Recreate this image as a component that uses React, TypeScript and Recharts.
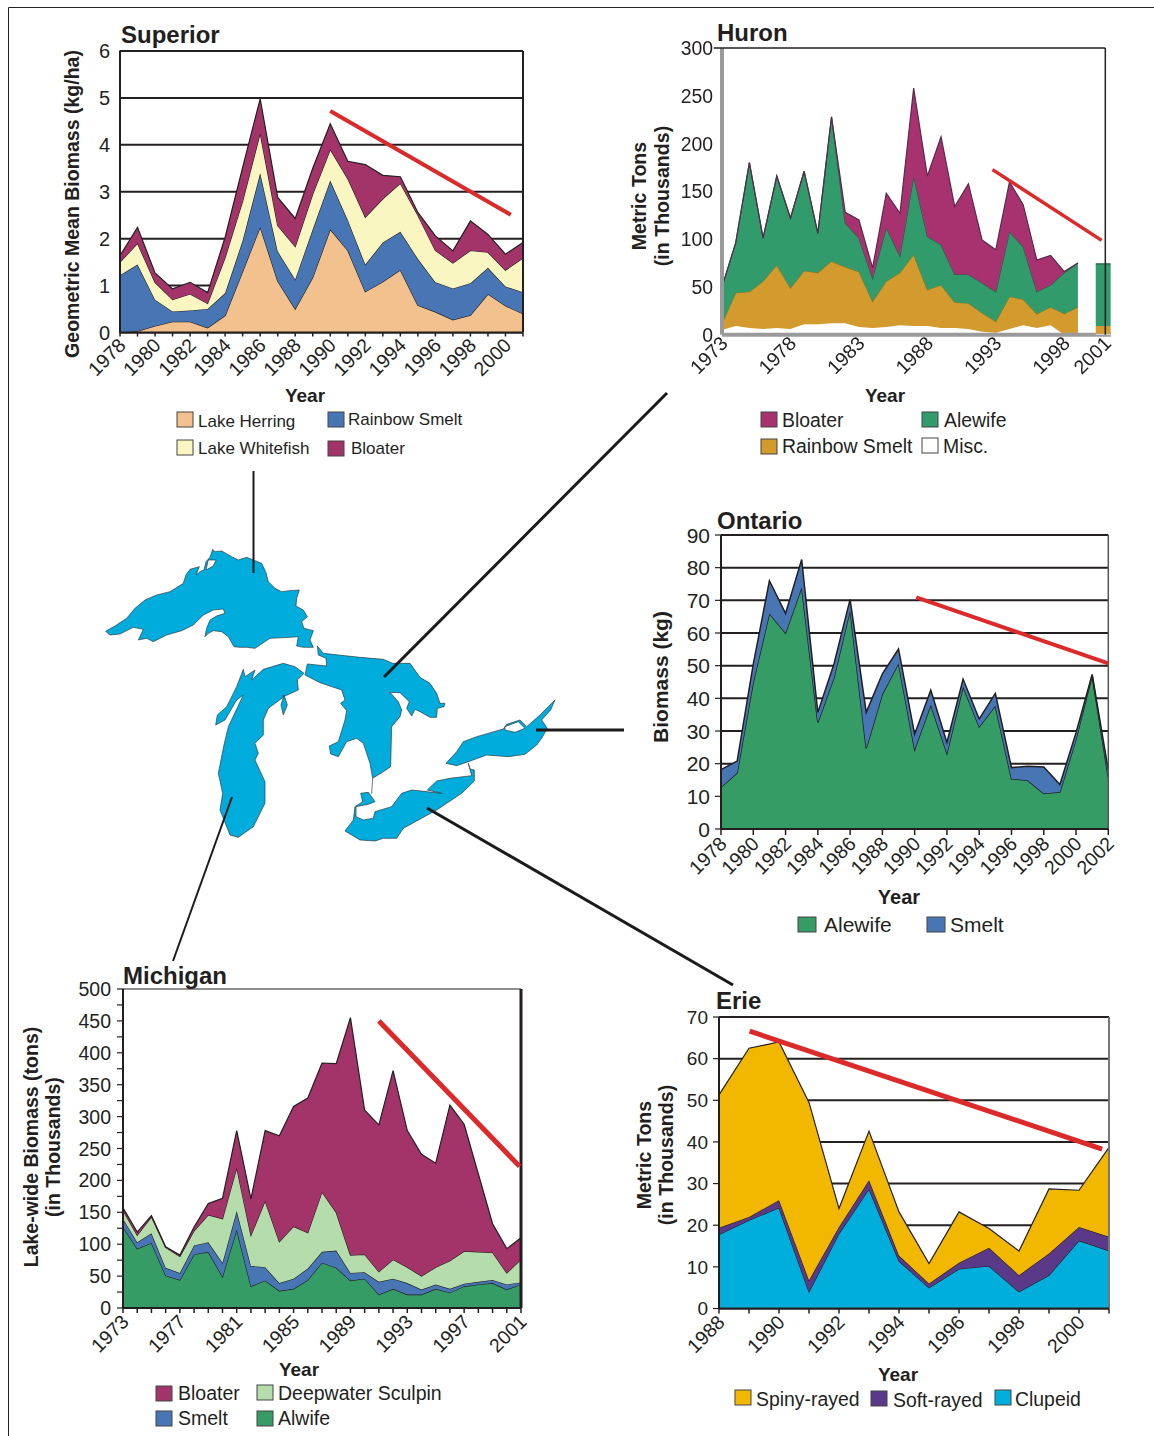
import React from "react";
import { AreaChart, Area, XAxis, YAxis, CartesianGrid, ReferenceLine } from "recharts";

// ---------- Superior ----------
const supYears = [1978,1979,1980,1981,1982,1983,1984,1985,1986,1987,1988,1989,1990,1991,1992,1993,1994,1995,1996,1997,1998,1999,2000,2001];
const supHerring = [0,.03,.14,.23,.23,.1,.36,1.3,2.25,1.1,.5,1.17,2.2,1.75,.87,1.08,1.33,.58,.44,.27,.37,.82,.57,.4];
const supSmelt = [1.22,1.42,.56,.22,.24,.4,.48,.66,1.15,.63,.63,1.03,1.04,.65,.58,.84,.82,.99,.63,.67,.68,.56,.41,.46];
const supWhitefish = [.28,.45,.37,.25,.35,.12,.76,.84,.85,.55,.7,.75,.66,.88,1.01,.93,1.03,.93,.68,.54,.7,.33,.35,.73];
const supBloater = [.14,.34,.2,.23,.25,.23,.43,.72,.73,.6,.6,.55,.55,.37,1.12,.5,.14,.06,.31,.26,.63,.38,.34,.33];
const supLabels = [1978,1980,1982,1984,1986,1988,1990,1992,1994,1996,1998,2000];
const supYTicks = [0,1,2,3,4,5,6];

// ---------- Huron ----------
const hurYears = [1973,1974,1975,1976,1977,1978,1979,1980,1981,1982,1983,1984,1985,1986,1987,1988,1989,1990,1991,1992,1993,1994,1995,1996,1997,1998,1999];
const hurMisc = [5,9,7,6,7,6,11,11,12,12,8,7,8,10,9,9,7,7,6,3,2,6,10,7,10,0,2];
const hurSmelt = [7,35,38,50,66,43,56,54,65,59,58,28,48,55,75,38,45,27,27,20,12,34,27,15,19,22,27];
const hurAlewife = [38,52,135,45,93,73,104,41,151,46,35,24,56,17,82,56,42,29,30,31,31,68,55,23,23,43,46];
const hurBloater = [0,0,0,0,0,0,0,0,0,11,19,11,36,45,92,63,113,71,95,45,44,52,44,33,31,1,0];
const hurLateYears = [2000.3,2001.4];
const hurLateMisc = [1,1];
const hurLateSmelt = [8,8];
const hurLateAlewife = [65,65];
const hurLateBloater = [0,0];
const hurLabels = [1973,1978,1983,1988,1993,1998,2001];
const hurYTicks = [0,50,100,150,200,250,300];

// ---------- Ontario ----------
const ontYears = [1978,1979,1980,1981,1982,1983,1984,1985,1986,1987,1988,1989,1990,1991,1992,1993,1994,1995,1996,1997,1998,1999,2000,2001,2002];
const ontAlewife = [12.8,17.2,45,66,60,74,32.6,46.4,67,24.7,41.3,50.7,24.4,38,23.2,43.6,31.3,37.7,15.4,14.9,10.9,11.3,27.5,47,15.7];
const ontSmelt = [5.4,3.6,5.5,10,6,8.5,3.1,4.1,3.3,11,6.2,4.4,4.6,4.5,3.3,2.3,2.4,3.8,3.4,4.3,8.1,2.3,2,.3,2.3];
const ontTicks = [1978,1980,1982,1984,1986,1988,1990,1992,1994,1996,1998,2000,2002];
const ontYTicks = [0,10,20,30,40,50,60,70,80,90];

// ---------- Michigan ----------
const micYears = [1973,1974,1975,1976,1977,1978,1979,1980,1981,1982,1983,1984,1985,1986,1987,1988,1989,1990,1991,1992,1993,1994,1995,1996,1997,1998,1999,2000,2001];
const micAlewife = [127,93,102,51,44,84,88,49,123,34,43,27,30,44,71,63,43,46,21,30,21,21,30,24,34,37,39,29,37];
const micSmelt = [13,10,15,12,11,14,15,22,29,32,21,12,16,18,17,27,12,10,20,16,18,8,7,6,4,4,5,8,3];
const micSculpin = [13,11,26,32,26,23,43,69,68,48,104,65,82,56,94,60,28,28,16,30,25,21,27,44,51,47,43,18,36];
const micBloater = [4,5,2,1,2,6,18,32,58,57,110,166,188,211,202,233,372,226,230,296,214,191,163,244,199,122,45,38,34];
const micLabels = [1973,1977,1981,1985,1989,1993,1997,2001];
const micYTicks = [0,25,50,75,100,125,150,175,200,225,250,275,300,325,350,375,400,425,450,475,500];
const micYLabels = [0,50,100,150,200,250,300,350,400,450,500];

// ---------- Erie ----------
const erieYears = [1988,1989,1990,1991,1992,1993,1994,1995,1996,1997,1998,1999,2000,2001];
const erieClupeid = [17.8,21.2,24.2,4,18,28.7,11.4,5,9.5,10.2,4,8,16.3,13.9];
const erieSoft = [1.6,.8,1.8,2.8,1.6,2.1,1.3,1,1.5,4.4,4,5.2,3.3,3.3];
const erieSpiny = [31.9,40.5,38,42.7,4.4,11.8,10.5,4.8,12.2,4.6,5.8,15.5,8.8,21.5];
const erieLabels = [1988,1990,1992,1994,1996,1998,2000];
const erieYTicks = [0,10,20,30,40,50,60,70];

const C = {
  herring: "#f2c18e", smelt: "#4876b5", whitefish: "#faf6c1", bloater: "#a2346a",
  alewife: "#359c66", sculpin: "#b5dcab", spiny: "#f2b800", soft: "#5a3988",
  clupeid: "#00aedc", hurBloater: "#a8326f", hurAlewife: "#329b6c", hurSmelt: "#d39a2d",
  red: "#dc2a2a", ink: "#231f20", water: "#00acdc",
};
const FONT = "'Liberation Sans', Arial, sans-serif";

function rows(xs: number[], cols: Record<string, number[]>) {
  return xs.map((year, i) => {
    const r: any = { year };
    Object.keys(cols).forEach((k) => (r[k] = cols[k][i]));
    return r;
  });
}

const PADL = 75, PADT = 20, PADR = 20, PADB = 70;

function LakeChart(p: any) {
  const { plot, data, series, xDomain, xTicks, xLabels, yDomain, yTicks, yLabels, grid, xFont, yFont,
    xTickSize, yTickSize, axisColor = C.ink, axisWidth = 2, stroke = C.ink, strokeWidth = 1.2, lines = [], hideAxes, gridWidth = 2 } = p;
  const w = plot.right - plot.left, h = plot.bottom - plot.top;
  const XTick = (t: any) =>
    xLabels.includes(t.payload.value) ? (
      <text x={t.x + 7} y={t.y + 8} textAnchor="end" fontSize={xFont} fontFamily={FONT} fill={C.ink}
        transform={`rotate(-45 ${t.x + 7} ${t.y + 8})`}>{t.payload.value}</text>
    ) : <g />;
  const YTick = (t: any) =>
    yLabels.includes(t.payload.value) ? (
      <text x={t.x} y={t.y + yFont * 0.36} textAnchor="end" fontSize={yFont} fontFamily={FONT} fill={C.ink}>{t.payload.value}</text>
    ) : <g />;
  return (
    <div style={{ position: "absolute", left: plot.left - PADL, top: plot.top - PADT, filter: p.blur ? `blur(${p.blur}px)` : undefined }}>
      <AreaChart width={w + PADL + PADR} height={h + PADT + PADB} data={data}
        margin={hideAxes ? { top: PADT, right: PADR, bottom: PADB, left: PADL } : { top: PADT, right: PADR, bottom: 0, left: 0 }}>
        {grid && <CartesianGrid vertical={false} stroke={C.ink} strokeWidth={gridWidth} />}
        <XAxis dataKey="year" type="number" domain={xDomain} ticks={xTicks} interval={0} height={PADB} hide={hideAxes}
          tick={XTick} tickSize={xTickSize} tickMargin={2} allowDataOverflow
          axisLine={{ stroke: axisColor, strokeWidth: axisWidth }} tickLine={{ stroke: C.ink, strokeWidth: 1.5 }} />
        <YAxis type="number" domain={yDomain} ticks={yTicks} interval={0} width={PADL} hide={hideAxes}
          tick={YTick} tickSize={yTickSize} tickMargin={p.yGap ?? 6} allowDataOverflow
          axisLine={{ stroke: axisColor, strokeWidth: axisWidth }} tickLine={{ stroke: C.ink, strokeWidth: 1.2 }} />
        {series.map((s: any) => (
          <Area key={s.key} dataKey={s.key} stackId="a" type="linear" fill={s.color} fillOpacity={1}
            stroke={s.stroke ?? stroke} strokeWidth={strokeWidth} isAnimationActive={false} dot={false} activeDot={false} />
        ))}
        {lines.map((l: any, i: number) => (
          <ReferenceLine key={i} segment={[{ x: l[0], y: l[1] }, { x: l[2], y: l[3] }]} stroke={l[5] ?? C.ink}
            strokeWidth={l[4]} ifOverflow="visible" />
        ))}
      </AreaChart>
    </div>
  );
}

function Swatch({ x, y, w = 16, h = 15, color, label, tx, ty, size }: any) {
  return (
    <g>
      <rect x={x} y={y} width={w} height={h} fill={color} stroke="#444" strokeWidth={1} />
      <text x={tx} y={ty} fontSize={size} fontFamily={FONT} fill={C.ink}>{label}</text>
    </g>
  );
}

function T({ x, y, size, children, anchor = "start", bold = true, rot }: any) {
  return (
    <text x={x} y={y} fontSize={size} fontFamily={FONT} fontWeight={bold ? 700 : 400} fill={C.ink} textAnchor={anchor}
      transform={rot ? `rotate(${rot} ${x} ${y})` : undefined}>{children}</text>
  );
}

const lakeSuperior = "M17,274 L45,258 L80,235 L105,205 L135,180 L170,165 L210,155 L250,130 L258,105 L270,88 L298,80 L288,105 L300,95 L312,90 L318,65 L330,52 L338,28 L345,35 L365,33 L395,50 L415,60 L440,52 L465,62 L485,70 L497,95 L505,125 L525,145 L545,155 L570,152 L598,150 L590,175 L588,198 L610,210 L622,230 L605,245 L612,265 L640,272 L630,300 L640,322 L610,322 L590,318 L595,290 L570,292 L510,295 L465,325 L440,322 L420,322 L402,320 L385,290 L365,275 L340,272 L325,280 L315,290 L320,265 L330,240 L350,228 L375,220 L370,207 L340,210 L310,225 L280,255 L245,272 L200,285 L160,305 L140,295 L115,300 L130,268 L100,262 L60,282 L30,285 Z M325,60 L348,60 L340,78 L318,90 Z";
const lakeHuron = "M322,18 L340,40 L385,45 L450,52 L520,58 L548,70 L600,70 L630,112 L660,130 L680,160 L690,190 L705,190 L702,200 L682,205 L680,232 L660,232 L630,215 L615,208 L605,228 L590,205 L598,185 L570,158 L540,157 L565,185 L575,210 L570,230 L545,260 L542,380 L520,395 L488,415 L480,370 L460,310 L440,295 L410,305 L385,350 L362,342 L358,318 L385,305 L405,240 L410,212 L392,190 L405,180 L395,150 L330,128 L285,105 L292,72 L350,78 L348,55 L325,45 Z";
const lakeMichigan = "M282,100 L262,120 L265,150 L225,168 L175,205 L160,240 L160,285 L135,310 L145,340 L135,360 L165,425 L165,490 L130,560 L85,592 L60,585 L30,510 L38,460 L25,400 L42,315 L55,260 L100,165 L80,180 L45,240 L17,255 L22,225 L50,200 L80,140 L100,88 L105,110 L135,90 L125,120 L160,88 L220,70 L255,80 Z";
const michiganBay = "M222,165 L232,195 L220,225 L213,195 Z";
const lakeErie = "M403,225 L403,258 L365,295 L290,345 L190,400 L170,430 L130,430 L105,438 L60,435 L15,408 L40,375 L45,335 L68,320 L62,295 L85,292 L105,320 L85,328 L48,335 L48,365 L70,375 L100,370 L105,350 L155,335 L185,295 L215,285 L305,295 L262,285 L290,258 L330,250 L395,242 L385,205 L390,222 Z";
const lakeOntario = "M318,205 L350,170 L370,140 L410,125 L490,102 L500,88 L540,75 L560,95 L600,60 L645,15 L632,45 L605,75 L622,100 L605,130 L590,150 L555,178 L505,185 L440,180 L385,200 L350,212 Z M495,95 L535,80 L555,100 L525,112 L495,105 Z";

export default function App() {
  const supPlot = { left: 120, top: 50.5, right: 523, bottom: 332 };
  const hurPlot = { left: 721.7, top: 48.3, right: 1110.5, bottom: 335 };
  const ontPlot = { left: 721, top: 535, right: 1108.3, bottom: 829 };
  const micPlot = { left: 123, top: 989, right: 521, bottom: 1308 };
  const eriePlot = { left: 719.3, top: 1017, right: 1109.3, bottom: 1308.5 };
  return (
    <div style={{ position: "absolute", left: 0, top: 0, width: 1154, height: 1436, overflow: "hidden", background: "#fff" }}>
      <svg width={1154} height={1436} style={{ position: "absolute", left: 0, top: 0 }}>
        <path d="M8.5,1436 L8.5,7.5 L1154,7.5" fill="none" stroke="#222" strokeWidth={1} />
        <g fill={C.water} stroke="#26363d" strokeWidth={2} fillRule="evenodd">
          <path transform="translate(100 540) scale(0.3333)" d={lakeSuperior} />
          <g transform="translate(210 640) scale(0.3333)">
            <path d={lakeHuron} /><path d={lakeMichigan} /><path d={michiganBay} />
            <path d="M488,415 L485,462" fill="none" />
          </g>
          <g transform="translate(340 695) scale(0.3333)">
            <path d={lakeErie} /><path d={lakeOntario} />
          </g>
        </g>
        <g stroke="#1c1a1a" strokeLinecap="butt">
          <line x1={253.5} y1={471} x2={253.5} y2={573} strokeWidth={2} />
          <line x1={667} y1={393} x2={384} y2={677} strokeWidth={3} />
          <line x1={536} y1={730} x2={624} y2={730} strokeWidth={3} />
          <line x1={427} y1={808} x2={733} y2={985} strokeWidth={3} />
          <line x1={232} y1={797} x2={173} y2={961} strokeWidth={2} />
        </g>

        <T x={121} y={43} size={24}>Superior</T>
        <T x={717} y={41} size={24}>Huron</T>
        <T x={717} y={529} size={24}>Ontario</T>
        <T x={123} y={984} size={24}>Michigan</T>
        <T x={716} y={1009} size={24}>Erie</T>

        <T x={305} y={402} size={19} anchor="middle">Year</T>
        <T x={885} y={402} size={19} anchor="middle">Year</T>
        <T x={899} y={904} size={20} anchor="middle">Year</T>
        <T x={299} y={1376} size={19} anchor="middle">Year</T>
        <T x={898} y={1381} size={19} anchor="middle">Year</T>

        <T x={79} y={204} size={19.5} anchor="middle" rot={-90}>Geometric Mean Biomass (kg/ha)</T>
        <T x={646} y={196} size={19.6} anchor="middle" rot={-90}>Metric Tons</T>
        <T x={669} y={196} size={19.6} anchor="middle" rot={-90}>(in Thousands)</T>
        <T x={668} y={677} size={21} anchor="middle" rot={-90}>Biomass (kg)</T>
        <T x={38} y={1147} size={19.5} anchor="middle" rot={-90}>Lake-wide Biomass (tons)</T>
        <T x={60} y={1147} size={19.5} anchor="middle" rot={-90}>(in Thousands)</T>
        <T x={651} y={1155} size={19.6} anchor="middle" rot={-90}>Metric Tons</T>
        <T x={673} y={1155} size={19.6} anchor="middle" rot={-90}>(in Thousands)</T>

        <Swatch x={177} y={412} color={C.herring} label="Lake Herring" tx={198} ty={427} size={17} />
        <Swatch x={328} y={412} color={C.smelt} label="Rainbow Smelt" tx={348} ty={425} size={17} />
        <Swatch x={177} y={440} color={C.whitefish} label="Lake Whitefish" tx={198} ty={454} size={17} />
        <Swatch x={328} y={441} color={C.bloater} label="Bloater" tx={351} ty={454} size={17} />

        <Swatch x={761} y={412} color={C.hurBloater} label="Bloater" tx={782} ty={427} size={19.4} />
        <Swatch x={922} y={412} color={C.hurAlewife} label="Alewife" tx={944} ty={427} size={19.4} />
        <Swatch x={761} y={439} color={C.hurSmelt} label="Rainbow Smelt" tx={782} ty={453} size={19.4} />
        <Swatch x={922} y={438} color="#ffffff" label="Misc." tx={943} ty={453} size={19.4} />

        <Swatch x={798} y={917} w={18} color={C.alewife} label="Alewife" tx={824} ty={932} size={21} />
        <Swatch x={927} y={917} w={18} color={C.smelt} label="Smelt" tx={950} ty={932} size={21} />

        <Swatch x={156} y={1386} color={C.bloater} label="Bloater" tx={178} ty={1400} size={19.5} />
        <Swatch x={257} y={1385} color={C.sculpin} label="Deepwater Sculpin" tx={278} ty={1400} size={19.5} />
        <Swatch x={156} y={1411} color={C.smelt} label="Smelt" tx={178} ty={1425} size={19.5} />
        <Swatch x={257} y={1411} color={C.alewife} label="Alwife" tx={278} ty={1425} size={19.5} />

        <Swatch x={735} y={1390} color={C.spiny} label="Spiny-rayed" tx={756} ty={1406} size={19.4} />
        <Swatch x={871} y={1391} color={C.soft} label="Soft-rayed" tx={893} ty={1407} size={19.4} />
        <Swatch x={995} y={1390} color={C.clupeid} label="Clupeid" tx={1015} ty={1406} size={19.4} />
      </svg>

      <LakeChart plot={supPlot} data={rows(supYears, { herring: supHerring, smelt: supSmelt, whitefish: supWhitefish, bloater: supBloater })}
        series={[{ key: "herring", color: C.herring }, { key: "smelt", color: C.smelt }, { key: "whitefish", color: C.whitefish }, { key: "bloater", color: C.bloater }]}
        xDomain={[1978, 2001]} xTicks={supYears} xLabels={supLabels} yDomain={[0, 6]} yTicks={supYTicks} yLabels={supYTicks}
        grid xFont={19.5} yFont={20} xTickSize={4} yTickSize={1} yGap={9}
        lines={[[2001, 0, 2001, 6, 2], [1990, 4.72, 2000.3, 2.51, 4, C.red]]} />

      <LakeChart blur={0.7} plot={hurPlot} data={rows(hurYears, { misc: hurMisc, smelt: hurSmelt, alewife: hurAlewife, bloater: hurBloater })}
        series={[{ key: "misc", color: "#ffffff", stroke: "none" }, { key: "smelt", color: C.hurSmelt, stroke: "#7d7a2c" }, { key: "alewife", color: C.hurAlewife, stroke: "#1d5e46" }, { key: "bloater", color: C.hurBloater, stroke: "#5a2a4c" }]}
        xDomain={[1973, 2001.4]} xTicks={hurLabels} xLabels={hurLabels} yDomain={[0, 300]} yTicks={hurYTicks} yLabels={hurYTicks}
        xFont={19.5} yFont={19.4} xTickSize={0} yTickSize={0} yGap={9} axisColor="#9a9a9a" axisWidth={4} />
      <LakeChart blur={0.7} hideAxes plot={hurPlot} data={rows(hurLateYears, { misc: hurLateMisc, smelt: hurLateSmelt, alewife: hurLateAlewife, bloater: hurLateBloater })}
        series={[{ key: "misc", color: "#ffffff", stroke: "none" }, { key: "smelt", color: C.hurSmelt, stroke: "none" }, { key: "alewife", color: C.hurAlewife, stroke: "none" }, { key: "bloater", color: C.hurBloater, stroke: "#1d5e46" }]}
        xDomain={[1973, 2001.4]} xTicks={hurLabels} xLabels={[]} yDomain={[0, 300]} yTicks={hurYTicks} yLabels={[]}
        xFont={18} yFont={19} xTickSize={0} yTickSize={0}
        lines={[]} />
      <LakeChart hideAxes plot={hurPlot} data={[]} series={[]}
        xDomain={[1973, 2001.4]} xTicks={hurLabels} xLabels={[]} yDomain={[0, 300]} yTicks={hurYTicks} yLabels={[]}
        xFont={18} yFont={19} xTickSize={0} yTickSize={0}
        lines={[[1972.4, 300, 2001, 300, 1.6], [2001, 0, 2001, 300, 1.5], [1992.76, 172.7, 2000.73, 98.7, 3.5, C.red]]} />

      <LakeChart plot={ontPlot} data={rows(ontYears, { alewife: ontAlewife, smelt: ontSmelt })}
        series={[{ key: "alewife", color: C.alewife }, { key: "smelt", color: C.smelt }]}
        xDomain={[1978, 2002]} xTicks={ontTicks} xLabels={ontTicks} yDomain={[0, 90]} yTicks={ontYTicks} yLabels={ontYTicks}
        grid xFont={19.5} yFont={21} xTickSize={6} yTickSize={6} yGap={5} strokeWidth={1.5}
        lines={[[2002, 0, 2002, 90, 1.5, "#555"], [1990.1, 70.9, 2002, 50.7, 4, C.red]]} />

      <LakeChart plot={micPlot} data={rows(micYears, { alewife: micAlewife, smelt: micSmelt, sculpin: micSculpin, bloater: micBloater })}
        series={[{ key: "alewife", color: C.alewife }, { key: "smelt", color: C.smelt }, { key: "sculpin", color: C.sculpin }, { key: "bloater", color: C.bloater }]}
        xDomain={[1973, 2001]} xTicks={micYears} xLabels={micLabels} yDomain={[0, 500]} yTicks={micYTicks} yLabels={micYLabels}
        xFont={19.5} yFont={19.5} xTickSize={5} yTickSize={6} yGap={6}
        lines={[[1973, 500, 2001, 500, 1.2], [2001, 0, 2001, 500, 3], [1991, 450, 2000.9, 222, 5, C.red]]} />

      <LakeChart plot={eriePlot} data={rows(erieYears, { clupeid: erieClupeid, soft: erieSoft, spiny: erieSpiny })}
        series={[{ key: "clupeid", color: C.clupeid }, { key: "soft", color: C.soft }, { key: "spiny", color: C.spiny }]}
        xDomain={[1988, 2001]} xTicks={erieYears} xLabels={erieLabels} yDomain={[0, 70]} yTicks={erieYTicks} yLabels={erieYTicks}
        grid xFont={19.5} yFont={19} xTickSize={5} yTickSize={6} yGap={5}
        lines={[[2001, 0, 2001, 70, 2, "#777"], [1989.02, 66.6, 2000.77, 38.3, 5, C.red]]} />
    </div>
  );
}
